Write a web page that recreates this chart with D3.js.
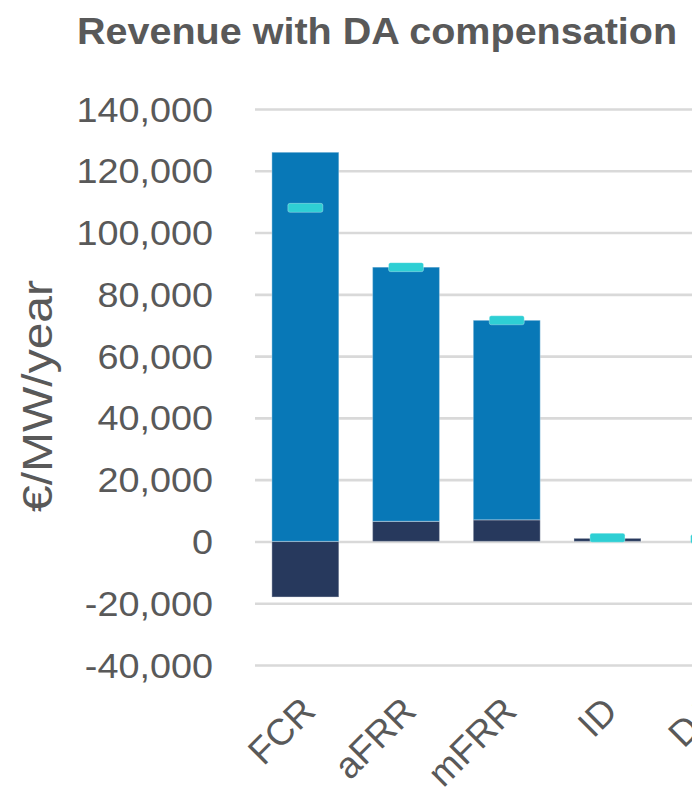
<!DOCTYPE html>
<html>
<head>
<meta charset="utf-8">
<script src="https://cdnjs.cloudflare.com/ajax/libs/d3/7.8.5/d3.min.js"></script>
<style>
  html, body { margin: 0; padding: 0; background: #fff; }
  svg { display: block; }
</style>
</head>
<body>
<div id="chart"></div>
<script>

// Chart data
const CATEGORIES = ["FCR", "aFRR", "mFRR", "ID", "DA"];
const DA_COMPENSATION = [-18000, 6500, 7000, 1000, 0];
const BALANCING_REVENUE = [126000, 82300, 64600, 0, 0];
const TOTAL_REVENUE = [108000, 88800, 71600, 1200, 800];
const Y_TICKS = [-40000, -20000, 0, 20000, 40000, 60000, 80000, 100000, 120000, 140000];

const WIDTH = 692;
const HEIGHT = 795;
const TEXT_COLOR = "#595959";
const STRETCH = 1.08;

var rows = CATEGORIES.map(function(c, i) {
  return { category: c, da: DA_COMPENSATION[i], balancing: BALANCING_REVENUE[i], total: TOTAL_REVENUE[i] };
});

var svg = d3.select("#chart")
  .append("svg")
  .attr("width", WIDTH)
  .attr("height", HEIGHT)
  .attr("font-family", "'Liberation Sans', Arial, sans-serif");

// Scales
var x = d3.scaleBand()
  .domain(CATEGORIES)
  .range([255, 255 + 100.7 * CATEGORIES.length])
  .paddingInner(0.335)
  .paddingOuter(0.1675);

var y = d3.scaleLinear()
  .domain([-40000, 140000])
  .range([665, 109]);

// plain hyphen for negatives, like the original
var numberFormat = d3.formatLocale({ decimal: ".", thousands: ",", grouping: [3], currency: ["", ""], minus: "-" }).format(",");

// Title
svg.append("text")
  .attr("transform", "translate(77,44) scale(" + STRETCH + ",1)")
  .attr("font-size", 36.6)
  .attr("font-weight", "bold")
  .attr("fill", TEXT_COLOR)
  .text("Revenue with DA compensation");

// Y axis label
svg.append("text")
  .attr("transform", "translate(52,396) rotate(-90)")
  .attr("text-anchor", "middle")
  .attr("font-size", 42)
  .attr("textLength", 232)
  .attr("lengthAdjust", "spacingAndGlyphs")
  .attr("fill", TEXT_COLOR)
  .text("€/MW/year");

// Gridlines + tick labels
var yAxis = d3.axisLeft(y)
  .tickValues(Y_TICKS)
  .tickSize(-(WIDTH - 255 + 10))
  .tickPadding(0)
  .tickFormat(numberFormat);

var axisG = svg.append("g")
  .attr("transform", "translate(255,0)")
  .call(yAxis);

axisG.select(".domain").remove();
axisG.selectAll(".tick line")
  .attr("stroke", "#d9d9d9")
  .attr("stroke-width", 2.6);
axisG.selectAll(".tick text")
  .attr("x", null)
  .attr("dy", null)
  .attr("dominant-baseline", "central")
  .attr("transform", "translate(-42,0) scale(" + STRETCH + ",1)")
  .attr("font-size", 35)
  .attr("fill", TEXT_COLOR)
  .attr("font-family", "'Liberation Sans', Arial, sans-serif");

// Stacked bars
var stack = d3.stack()
  .keys(["da", "balancing"])
  .offset(d3.stackOffsetDiverging);

var colors = { da: "#27395d", balancing: "#0878b7" };

svg.append("g")
  .selectAll("g")
  .data(stack(rows))
  .enter().append("g")
  .attr("fill", function(s) { return colors[s.key]; })
  .selectAll("rect")
  .data(function(s) { return s; })
  .enter().append("rect")
  .filter(function(d) { return d[1] !== d[0]; })
  .attr("x", function(d) { return x(d.data.category); })
  .attr("width", x.bandwidth())
  .attr("y", function(d) { return y(Math.max(d[0], d[1])); })
  .attr("height", function(d) { return Math.max(2.5, Math.abs(y(d[0]) - y(d[1]))); })
  .attr("stroke", "#ffffff")
  .attr("stroke-opacity", 0.3)
  .attr("stroke-width", 1.2);

// Total markers
const MARKER_WIDTH = 35;
const MARKER_HEIGHT = 9;

svg.append("g")
  .selectAll("rect")
  .data(rows)
  .enter().append("rect")
  .attr("x", function(d) { return x(d.category) + x.bandwidth() / 2 - MARKER_WIDTH / 2; })
  .attr("y", function(d) { return y(d.total) - MARKER_HEIGHT / 2; })
  .attr("width", MARKER_WIDTH)
  .attr("height", MARKER_HEIGHT)
  .attr("rx", 2)
  .attr("fill", "#2ecfd4")
  .attr("stroke", "#ffffff")
  .attr("stroke-opacity", 0.3)
  .attr("stroke-width", 1);

// Category labels
svg.append("g")
  .selectAll("text")
  .data(CATEGORIES)
  .enter().append("text")
  .attr("transform", function(d) {
    return "translate(" + (x(d) + x.bandwidth() / 2 + 12) + ",713) rotate(-45)";
  })
  .attr("text-anchor", "end")
  .attr("font-size", 37)
  .attr("fill", TEXT_COLOR)
  .text(function(d) { return d; });

</script>
</body>
</html>
